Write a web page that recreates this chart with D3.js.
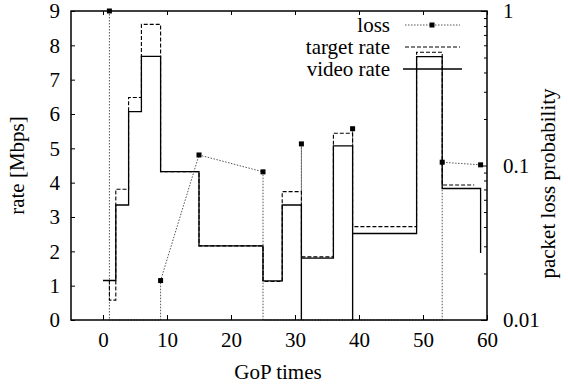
<!DOCTYPE html>
<html>
<head>
<meta charset="utf-8">
<script src="https://cdn.jsdelivr.net/npm/d3@7"></script>
<style>
  html, body { margin: 0; padding: 0; background: #fff; }
  svg { display: block; }
  text { font-family: "Liberation Serif", "DejaVu Serif", serif; fill: #000; }
</style>
</head>
<body>
<svg id="chart" width="568" height="387"></svg>
<script>
// ---- data ----
const videoGoP  = [0, 2, 4, 6, 9, 15, 25, 28, 31, 31, 36, 39, 39, 49, 53, 59];
const videoRate = [1.15, 3.35, 6.07, 7.68, 4.32, 2.16, 1.14, 3.35, 0, 1.80, 5.07, 0, 2.52, 7.67, 3.83, 1.95];

const targetGoP  = [0, 1, 2, 4, 6, 9, 15, 25, 28, 31, 36, 39, 49, 53, 58];
const targetRate = [1.15, 0.58, 3.81, 6.48, 8.61, 4.32, 2.16, 1.12, 3.74, 1.84, 5.44, 2.72, 7.80, 3.93, 3.93];

const lossGoP  = [1, 1, 9, 9, 15, 25, 25, 31, 31, 31, 39, 39, 39, 53, 53, 59];
const lossProb = [1, 0, 0, 0.018, 0.117, 0.091, 0, 0, 0.138, 0, 0, 0.173, 0, 0, 0.105, 0.101];

const xTicks  = [0, 10, 20, 30, 40, 50, 60];
const yTicks  = [0, 1, 2, 3, 4, 5, 6, 7, 8, 9];
const y2Major = [0.01, 0.1, 1];
const y2Labels = ["0.01", "0.1", "1"];
const legendLabels = ["loss", "target rate", "video rate"];
const xTitle = "GoP times";
const yTitle = "rate [Mbps]";
const y2Title = "packet loss probability";

// ---- layout ----
const L = 71, R = 487, T = 11, B = 320;
const svg = d3.select("#chart");

const x  = d3.scaleLinear().domain([-5, 60]).range([L, R]);
const y  = d3.scaleLinear().domain([0, 9]).range([B, T]);
const y2 = d3.scaleLog().domain([0.01, 1]).range([B, T]).clamp(true);

const FS = 21;

// ---- data lines ----
const video = videoGoP.map((g, i) => [g, videoRate[i]]);
const target = targetGoP.map((g, i) => [g, targetRate[i]]);
const loss = lossGoP.map((g, i) => [g, lossProb[i]]);

const stepLine = d3.line().x(d => x(d[0])).y(d => y(d[1])).curve(d3.curveStepAfter);
const lossLine = d3.line().x(d => x(d[0])).y(d => d[1] > 0 ? y2(d[1]) : y2(0.01));

svg.append("path").datum(loss).attr("d", lossLine)
  .attr("fill", "none").attr("stroke", "#555").attr("stroke-width", 1)
  .attr("stroke-dasharray", "1.5,1.5");

svg.append("path").datum(target).attr("d", stepLine)
  .attr("fill", "none").attr("stroke", "#000").attr("stroke-width", 1.1)
  .attr("stroke-dasharray", "4,2");

svg.append("path").datum(video).attr("d", stepLine)
  .attr("fill", "none").attr("stroke", "#000").attr("stroke-width", 1.3);

svg.append("g").selectAll("rect").data(loss.filter(d => d[1] > 0)).join("rect")
  .attr("x", d => x(d[0]) - 2.5).attr("y", d => y2(d[1]) - 2.5)
  .attr("width", 5).attr("height", 5).attr("fill", "#000");

// ---- axes (gnuplot style, inward ticks) ----
const gx = svg.append("g").attr("transform", `translate(0,${B})`)
  .call(d3.axisBottom(x).tickValues(xTicks).tickSize(-5).tickPadding(12).tickFormat(d3.format("d")));
const gxt = svg.append("g").attr("transform", `translate(0,${T})`)
  .call(d3.axisTop(x).tickValues(xTicks).tickSize(-4).tickFormat(""));
const gy = svg.append("g").attr("transform", `translate(${L},0)`)
  .call(d3.axisLeft(y).tickValues(yTicks).tickSize(-4).tickPadding(11).tickFormat(d3.format("d")));

const y2Minor = [];
[0.01, 0.1].forEach(b => { for (let k = 2; k <= 9; k++) y2Minor.push(b * k); });
const gy2m = svg.append("g").attr("transform", `translate(${R},0)`)
  .call(d3.axisRight(y2).tickValues(y2Minor).tickSize(-3).tickFormat(""));
const gy2 = svg.append("g").attr("transform", `translate(${R},0)`)
  .call(d3.axisRight(y2).tickValues(y2Major).tickSize(-6).tickPadding(16)
    .tickFormat((d, i) => y2Labels[i]));

[gx, gxt, gy, gy2, gy2m].forEach(g => {
  g.select(".domain").remove();
  g.selectAll("line").attr("stroke", "#000").attr("stroke-width", 1);
  g.selectAll("text").attr("font-size", FS).attr("font-family", "Liberation Serif");
});
gy2.selectAll("text").attr("text-anchor", "start");

// border
svg.append("rect").attr("x", L).attr("y", T).attr("width", R - L).attr("height", B - T)
  .attr("fill", "none").attr("stroke", "#000").attr("stroke-width", 1.5);

// ---- titles ----
svg.append("text").attr("x", 278).attr("y", 379).attr("text-anchor", "middle")
  .attr("font-size", FS).text(xTitle);
svg.append("text").attr("transform", `translate(24,${(T + B) / 2}) rotate(-90)`)
  .attr("text-anchor", "middle").attr("font-size", FS).text(yTitle);
svg.append("text").attr("transform", `translate(555,${(T + B) / 2 + 18}) rotate(-90)`)
  .attr("text-anchor", "middle").attr("font-size", FS).text(y2Title);

// ---- legend ----
const legY = [25, 47, 69];
const leg = svg.append("g");
legendLabels.forEach((lab, i) => {
  leg.append("text").attr("x", 390).attr("y", legY[i]).attr("dy", "0.35em")
    .attr("text-anchor", "end").attr("font-size", FS).text(lab);
});
leg.append("line").attr("x1", 405).attr("x2", 460).attr("y1", legY[0]).attr("y2", legY[0])
  .attr("stroke", "#555").attr("stroke-width", 1).attr("stroke-dasharray", "1.5,1.5");
leg.append("rect").attr("x", 432 - 2.5).attr("y", legY[0] - 2.5).attr("width", 5).attr("height", 5).attr("fill", "#000");
leg.append("line").attr("x1", 405).attr("x2", 460).attr("y1", legY[1]).attr("y2", legY[1])
  .attr("stroke", "#000").attr("stroke-width", 1.1).attr("stroke-dasharray", "4,2");
leg.append("line").attr("x1", 403).attr("x2", 462).attr("y1", legY[2]).attr("y2", legY[2])
  .attr("stroke", "#000").attr("stroke-width", 1.3);
</script>
</body>
</html>
